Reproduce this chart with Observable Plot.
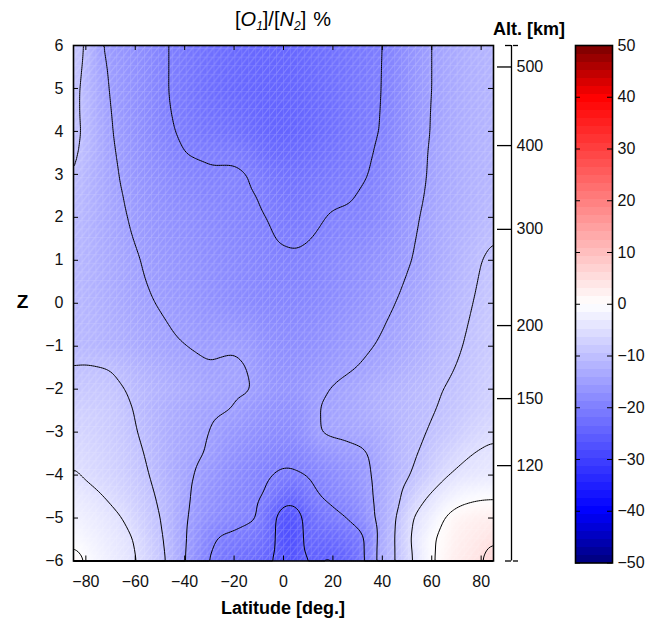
<!DOCTYPE html>
<html><head><meta charset="utf-8">
<script src="https://cdn.jsdelivr.net/npm/d3@7"></script>
<script src="https://cdn.jsdelivr.net/npm/@observablehq/plot@0.6"></script>
<style>
body{margin:0;background:#fff;}
#wrap{position:relative;width:662px;height:620px;font-family:"Liberation Sans",Arial,Helvetica,sans-serif;color:#000;overflow:hidden;}
#wrap svg{position:absolute;top:0;}
.lbl{position:absolute;line-height:1;white-space:nowrap;}
.lbl sub{font-size:12px;vertical-align:-4px;line-height:0;}
</style></head><body>
<div id="wrap">
  <div class="lbl" style="left:0;width:566px;top:9px;text-align:center;font-size:20px;">[<i>O</i><i><sub>1</sub></i>]/[<i>N</i><i><sub>2</sub></i>]<span style="margin-left:7px">%</span></div>
  <div class="lbl" style="left:479px;width:100px;top:20px;text-align:center;font-size:18px;font-weight:bold;">Alt. [km]</div>
  <div class="lbl" style="left:12px;width:21px;top:292px;text-align:center;font-size:19px;font-weight:bold;">Z</div>
  <div class="lbl" style="left:133px;width:300px;top:599px;text-align:center;font-size:18px;font-weight:bold;">Latitude [deg.]</div>
</div>
<script>
// ---- data ----
const latitudes = [-85,-80,-75,-70,-65,-60,-55,-50,-45,-40,-35,-30,-25,-20,-15,-10,-5,0,5,10,15,20,25,30,35,40,45,50,55,60,65,70,75,80,85];
const zLevels = [6,5,4,3.5,3,2.5,2,1,0,-1,-1.5,-2,-2.5,-3,-3.5,-4,-4.5,-5,-5.5,-6];
const rowZ6   = [-8.5,-10,-14.5,-15.8,-16.5,-17.2,-18,-19.3,-20.3,-21,-21.7,-22.3,-22.8,-23.2,-23.5,-23.7,-23.8,-23.8,-23.6,-23.2,-22.8,-22.3,-21.8,-21.2,-20.7,-20.1,-18.8,-17.3,-16,-15,-14,-13.2,-12.5,-12,-11.5];
const rowZ5   = [-8.8,-11,-13.5,-15.3,-16.3,-17.2,-18.2,-19.3,-20.3,-21.2,-22,-22.7,-23.2,-23.6,-23.9,-24.1,-24.2,-24.2,-24,-23.6,-23.1,-22.5,-21.9,-21.3,-20.7,-20,-18.7,-17.3,-16,-15,-14,-13.2,-12.6,-12.1,-11.7];
const rowZ4   = [-9,-10.6,-13,-14.8,-16,-17,-18,-19.2,-19.8,-20.6,-21.3,-21.7,-22,-22.4,-23,-23.6,-24.1,-24.3,-24.1,-23.7,-23.1,-22.5,-21.8,-21.2,-20.6,-19.8,-18.5,-17.2,-16,-14.8,-13.9,-13.1,-12.5,-12,-11.6];
const rowZ3p5 = [-9.3,-10.9,-12.9,-14.5,-15.7,-16.6,-17.5,-18.4,-19.2,-20.05,-20.3,-20.4,-20.5,-20.6,-21.1,-22.2,-23,-23.2,-23.1,-22.8,-22.3,-21.8,-21.3,-20.8,-20.3,-19.3,-18.1,-17,-15.8,-14.6,-13.7,-13,-12.4,-11.9,-11.5];
const rowZ3   = [-9.6,-11.4,-12.8,-14.2,-15.4,-16.3,-17,-17.7,-18.4,-19,-19.4,-19.7,-19.6,-19.5,-19.9,-20.6,-21.5,-22,-22.1,-21.8,-21.4,-21,-20.7,-20.4,-20,-18.8,-17.8,-16.8,-15.7,-14.5,-13.6,-12.9,-12.3,-11.8,-11.4];
const rowZ2p5 = [-10.3,-11.6,-12.8,-14,-15,-15.9,-16.6,-17.3,-17.9,-18.4,-18.8,-19.1,-19.3,-19.5,-19.7,-20.05,-20.8,-21.4,-21.6,-21.3,-20.9,-20.5,-20.3,-19.95,-19.5,-18.5,-17.5,-16.5,-15.4,-14.3,-13.4,-12.8,-12.2,-11.6,-11.1];
const rowZ2   = [-10.5,-11.7,-12.8,-13.8,-14.7,-15.5,-16.2,-16.8,-17.3,-17.7,-18.1,-18.5,-18.8,-19.1,-19.4,-19.7,-20.2,-20.8,-21,-20.7,-20.2,-19.7,-19.6,-19.5,-19,-18.2,-17.2,-16.1,-15,-14,-13.2,-12.6,-12,-11.3,-10.6];
const rowZ1   = [-11,-11.8,-12.6,-13.4,-14.1,-14.7,-15.4,-16,-16.5,-17,-17.4,-17.8,-18.2,-18.5,-18.8,-19.1,-19.4,-19.6,-19.7,-19.5,-19.1,-18.7,-18.3,-17.9,-17.4,-16.8,-16.1,-15.3,-14.5,-13.6,-12.8,-11.9,-11,-10,-9.4];
const rowZ0   = [-11,-11.6,-12.2,-12.9,-13.6,-14.2,-14.7,-15.2,-15.7,-16.2,-16.7,-17.2,-17.6,-18,-18.3,-18.6,-18.8,-18.9,-18.9,-18.7,-18.4,-18,-17.5,-17,-16.4,-15.7,-15.05,-14.3,-13.5,-12.7,-11.9,-11.1,-10.3,-9.4,-8.6];
const rowZm1  = [-11,-11.2,-11.6,-12.1,-12.5,-13,-13.6,-14.1,-14.6,-14.95,-15.3,-15.4,-15.3,-15.2,-15.6,-16.5,-17.2,-17.6,-17.7,-17.5,-17.1,-16.6,-16.1,-15.6,-15.2,-14.6,-13.9,-13.2,-12.5,-11.8,-11.1,-10.4,-9.6,-8.8,-8.1];
const rowZm1p5= [-9.95,-9.8,-9.9,-10.1,-10.9,-11.6,-12.3,-12.9,-13.5,-14,-14.4,-14.85,-14.7,-14.6,-14.9,-16,-16.8,-17.1,-17.1,-16.8,-16.3,-15.8,-15.4,-15,-14.4,-13.7,-13,-12.3,-11.7,-11.1,-10.5,-9.95,-9.2,-8.4,-7.7];
const rowZm2  = [-8.6,-8.7,-8.7,-9,-9.9,-10.6,-11.3,-12,-12.6,-13.2,-13.7,-14.1,-14.4,-14.6,-14.6,-15.6,-16.3,-16.6,-16.5,-16,-15.4,-14.8,-14.3,-13.7,-13,-12.4,-11.8,-11.3,-10.8,-10.4,-10,-9.4,-8.7,-8,-7.3];
const rowZm2p5= [-7.3,-7.5,-7.8,-8.3,-9.1,-10.2,-11.2,-12.1,-12.9,-13.6,-14.2,-14.6,-14.8,-15.1,-15.9,-16.5,-17,-17.3,-17.2,-16.3,-14.8,-14.4,-14,-13.5,-12.9,-12.1,-11.4,-10.9,-10.5,-10.2,-9.6,-8.9,-8.1,-7.4,-6.8];
const rowZm3  = [-6.5,-6.9,-7.4,-8,-8.8,-9.8,-10.9,-12,-13,-13.8,-14.4,-15,-15.7,-16.3,-16.9,-17.4,-17.9,-18.1,-17.9,-16.6,-14.8,-14.4,-14.3,-14,-13.8,-12.8,-11.8,-10.8,-10.4,-9.7,-8.9,-8,-7,-6.2,-5.6];
const rowZm3p5= [-5.6,-6.1,-6.7,-7.4,-8.2,-9.1,-10.4,-11.7,-12.9,-13.9,-14.6,-15.3,-16.4,-17.2,-17.9,-18.5,-19,-19.3,-19.2,-18.4,-17.2,-16.5,-16,-15.6,-14.9,-13.2,-11.8,-10.6,-10,-8.6,-7.3,-6.2,-5.2,-4.6,-4.3];
const rowZm4  = [-4.6,-5.4,-6.1,-6.8,-7.6,-8.5,-9.8,-11.3,-12.8,-14.1,-15.3,-16.3,-17.2,-18,-18.7,-19.4,-20,-20.4,-20.3,-19.8,-19,-18.2,-17.4,-16.6,-15.2,-13.5,-11.8,-10.4,-8.9,-7.3,-5.5,-4.4,-3.9,-3.6,-3.5];
const rowZm4p5= [-3.2,-3.8,-4.6,-5.5,-6.6,-7.7,-9,-10.6,-12.3,-14.2,-15.9,-17,-17.9,-18.6,-19.2,-19.7,-20.6,-23.4,-23.5,-21.3,-19.9,-19.2,-18.5,-17.5,-15.6,-13.2,-11.2,-8.8,-6.2,-4.4,-2.8,-1.6,-0.9,-0.5,-0.4];
const rowZm5  = [-2,-2.6,-3.3,-4.1,-5,-6.5,-8.2,-9.9,-12,-14.6,-16.2,-17.4,-18.3,-18.9,-19.4,-19.95,-23.5,-27.5,-27,-23.3,-21.8,-20.8,-20.1,-18.8,-16.2,-13,-10.6,-6.2,-3.8,-2.2,0.1,1.6,2.2,2.5,2.6];
const rowZm5p5= [-0.6,-1.5,-2.4,-3.3,-4.1,-5.1,-7.3,-9.3,-11.8,-14.7,-17,-19.3,-20.6,-20.8,-21.3,-21.8,-23.7,-27.6,-27.3,-23.5,-23.7,-23.4,-22.5,-22,-18.6,-12.4,-10.4,-5.8,-2.8,-0.3,0.9,2.3,3,3.6,4.6];
const rowZm6  = [1.8,-0.2,-1.5,-2.6,-3.6,-4.7,-6.6,-8.7,-11.5,-14.9,-17.8,-20.3,-21.5,-22.3,-23,-23.7,-24.8,-27,-26.8,-24.8,-25.2,-25.4,-24.6,-22.8,-18,-12.5,-10.3,-6.6,-3,-0.4,1.5,2.8,3.6,4.7,7];
const contourLevels = [-25,-20,-15,-10,-5,0,5];
const latTicks = [-80,-60,-40,-20,0,20,40,60,80];
const zTicks = [-6,-5,-4,-3,-2,-1,0,1,2,3,4,5,6];
const altLabels = ["500","400","300","200","150","120"];
const altZ = [5.5,3.67,1.72,-0.52,-2.22,-3.78];
const colorbarTicks = [-50,-40,-30,-20,-10,0,10,20,30,40,50];
const colorStops = [-50,-40,0,40,50];
const colorRange = ["#00007a","#0000ff","#ffffff","#ff0000","#7a0000"];

const rows = [rowZ6,rowZ5,rowZ4,rowZ3p5,rowZ3,rowZ2p5,rowZ2,rowZ1,rowZ0,rowZm1,rowZm1p5,rowZm2,rowZm2p5,rowZm3,rowZm3p5,rowZm4,rowZm4p5,rowZm5,rowZm5p5,rowZm6];
const grid = zLevels.flatMap((z, i) => latitudes.map((lat, j) => ({lat, z, v: rows[i][j]})));
const fmt = d => String(d).replace("-", "\u2212");
const color = {type: "linear", domain: colorStops, range: colorRange, interpolate: "rgb"};
const font = '"Liberation Sans", Arial, Helvetica, sans-serif';
const baseStyle = {fontFamily: font, fontSize: "16px", background: "transparent", color: "#000", overflow: "visible"};

const H = 620, MT = 45, MB = 59.5;
const FW = 420, FH = H - MT - MB;
const cellLat = 2.8125, cellZ = 0.2; // model grid spacing (for the faint cell texture)

const main = Plot.plot({
  width: 520, height: H, marginLeft: 73, marginRight: 27, marginTop: MT, marginBottom: MB,
  style: baseStyle,
  x: {domain: [-85, 85]},
  y: {domain: [-6, 6]},
  color,
  marks: [
    Plot.raster(grid, {x: "lat", y: "z", fill: "v", interpolate: "barycentric", pixelSize: 2, blur: 2}),
    Plot.contour(grid, {x: "lat", y: "z", value: "v", thresholds: contourLevels, interpolate: "barycentric", blur: 2, stroke: "black", strokeWidth: 1, fill: "none"}),
    Plot.tickX(latTicks, {x: d => d, insetBottom: FH - 5, stroke: "black"}),
    Plot.tickX(latTicks, {x: d => d, insetTop: FH - 5, stroke: "black"}),
    Plot.tickY(zTicks, {y: d => d, insetRight: FW - 5, stroke: "black"}),
    Plot.tickY(zTicks, {y: d => d, insetLeft: FW - 5, stroke: "black"}),
    Plot.frame({stroke: "black", strokeWidth: 1.6}),
    Plot.axisX(latTicks, {anchor: "bottom", tickSize: 0, tickPadding: 14.5, tickFormat: fmt, label: null, fill: "#111"}),
    Plot.axisY(zTicks, {anchor: "left", tickSize: 0, tickPadding: 10, tickFormat: fmt, label: null, fill: "#111"})
  ]
});
main.style.left = "0px";

// faint cell texture (grid + diagonal) over the shaded field, sized from the plot's own scales
(function addTexture() {
  const sx = main.scale("x"), sy = main.scale("y");
  const x0 = sx.apply(-85), x1 = sx.apply(85), y0 = sy.apply(6), y1 = sy.apply(-6);
  const cw = Math.abs(sx.apply(-85 + cellLat) - x0), ch = Math.abs(sy.apply(6 - cellZ) - y0);
  const ns = "http://www.w3.org/2000/svg";
  const defs = document.createElementNS(ns, "defs");
  const pat = document.createElementNS(ns, "pattern");
  pat.setAttribute("id", "cellTex");
  pat.setAttribute("patternUnits", "userSpaceOnUse");
  pat.setAttribute("x", x0 + 1.5); pat.setAttribute("y", y0 + 3);
  pat.setAttribute("width", cw); pat.setAttribute("height", ch);
  const p = document.createElementNS(ns, "path");
  p.setAttribute("d", `M0,0H${cw}M0,0V${ch}M0,${ch}L${cw},0`);
  p.setAttribute("stroke", "white"); p.setAttribute("stroke-opacity", "0.22"); p.setAttribute("stroke-width", "1"); p.setAttribute("fill", "none");
  pat.appendChild(p); defs.appendChild(pat); main.insertBefore(defs, main.firstChild);
  const r = document.createElementNS(ns, "rect");
  r.setAttribute("x", x0); r.setAttribute("y", y0); r.setAttribute("width", x1 - x0); r.setAttribute("height", y1 - y0);
  r.setAttribute("fill", "url(#cellTex)");
  const raster = main.querySelector("image");
  const g = raster ? raster.closest("g") : null;
  if (g && g.nextSibling) main.insertBefore(r, g.nextSibling); else main.appendChild(r);
})();

const alt = Plot.plot({
  width: 60, height: H, marginLeft: 30, marginRight: 29, marginTop: MT, marginBottom: MB,
  style: baseStyle,
  x: {domain: [0, 1], axis: null},
  y: {domain: [-6, 6], axis: null},
  marks: [
    Plot.ruleX([0], {y1: -6, y2: 6, stroke: "black", strokeWidth: 1.3}),
    Plot.axisY(altZ, {anchor: "left", tickSize: 14, fill: "none", strokeWidth: 1.3, stroke: "black"}),
    Plot.axisY([-6, 6], {anchor: "left", tickSize: 6, fill: "none", strokeWidth: 1.3, stroke: "black"}),
    Plot.axisY([-6, 6], {anchor: "right", tickSize: 5, fill: "none", strokeWidth: 1.3, stroke: "black"}),
    Plot.axisY(altZ, {anchor: "right", tickSize: 0, tickPadding: 4, tickFormat: (d, i) => altLabels[i], label: null, fill: "#111"})
  ]
});
alt.style.left = "481px";

const cb = Plot.plot({
  width: 90, height: H, marginLeft: 1, marginRight: 52, marginTop: MT, marginBottom: 57.5,
  style: baseStyle,
  x: {domain: [0, 1], axis: null},
  y: {domain: [-50, 50], axis: null},
  color,
  marks: [
    Plot.raster({x1: 0, x2: 1, y1: -50, y2: 50, width: 1, height: 64, fill: (x, y) => y, imageRendering: "pixelated"}),
    Plot.tickY(colorbarTicks, {y: d => d, insetRight: 37 - 5, stroke: "black"}),
    Plot.tickY(colorbarTicks, {y: d => d, insetLeft: 37 - 5, stroke: "black"}),
    Plot.frame({stroke: "black", strokeWidth: 1.6}),
    Plot.axisY(colorbarTicks, {anchor: "right", tickSize: 0, tickPadding: 5, tickFormat: fmt, label: null, fill: "#111"})
  ]
});
cb.style.left = "574px";

const wrap = document.getElementById("wrap");
wrap.prepend(main);
wrap.appendChild(alt);
wrap.appendChild(cb);
</script>
</body></html>
